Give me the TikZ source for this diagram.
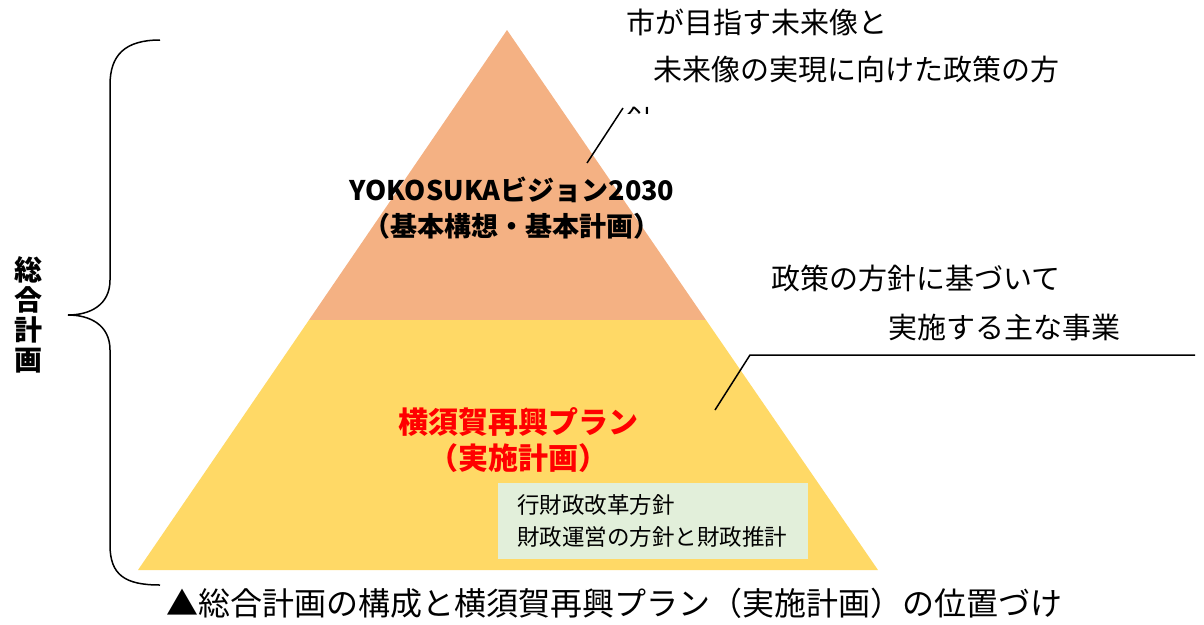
\documentclass[tikz,border=0pt]{standalone}
\usepackage{fontspec}
\setmainfont{Noto Sans CJK JP}
\usetikzlibrary{positioning}
\definecolor{spitze}{HTML}{F4B183}
\definecolor{sockel}{HTML}{FFD966}
\definecolor{kasten}{HTML}{E2EFDA}
\tikzset{
    %Define style for side notes
    notiz/.style={
           font=\fontsize{29}{32}\selectfont,
           inner sep=0pt,
           anchor=west},
    %Define style for the titles inside the pyramid
    titel/.style={
           font=\bfseries\fontsize{28}{36}\selectfont,
           align=center,
           inner sep=0pt},
    % Define leader line style
    strich/.style={
           draw=black,
           line width=1.5pt}
}
\begin{document}
\begin{tikzpicture}[x=1pt, y=-1pt]
\useasboundingbox (0,0) rectangle (1204,624);

%pyramid
\fill[spitze] (507,30) -- (706,320) -- (309,320) -- cycle;
\fill[sockel] (309,320) -- (706,320) -- (878,570) -- (138,570) -- cycle;

%nodes
\node[titel, font=\bfseries\fontsize{27}{36}\selectfont] (vision) at (512,208) {YOKOSUKAビジョン2030\\（基本構想・基本計画）};
\node[titel, text=red, font=\bfseries\fontsize{30}{36}\selectfont] (plan) at (518,440) {横須賀再興プラン\\（実施計画）};
\node[fill=kasten, minimum width=310pt, minimum height=76pt, inner xsep=19pt,
      align=left, text width=272pt, font=\fontsize{22.5}{32}\selectfont] (finanz) at (653,521)
      {行財政改革方針\\財政運営の方針と財政推計};

\node[notiz] (ziel1) at (626,22) {市が目指す未来像と};
\node[notiz] (ziel2) at (653,70) {未来像の実現に向けた政策の方};
\begin{scope}
\clip (600,95) rectangle (700,113);
\node[notiz] (ziel3) at (626,120) {針};
\end{scope}
\node[notiz] (weg1) at (771,278) {政策の方針に基づいて};
\node[notiz] (weg2) at (888,328) {実施する主な事業};

\node[font=\bfseries\fontsize{28}{30}\selectfont, align=center, inner sep=0pt] (gesamt) at (28,315) {総\\合\\計\\画};
\node[font=\fontsize{32}{36}\selectfont, inner sep=0pt, anchor=west] (unten) at (166,603)
      {▲総合計画の構成と横須賀再興プラン（実施計画）の位置づけ};

%leader lines
\coordinate (o1) at (623,108);
\coordinate (o2) at (587,163);
\coordinate (u0) at (1195,355);
\coordinate (u1) at (750,355);
\coordinate (u2) at (715,410);
\draw [strich] (o1) -- (o2);
\draw [strich] (u0) -- (u1) -- (u2);

%brace
\draw [strich]
    (160,40) .. controls (125,40) and (110,55) .. (110,85) -- (110,280)
    .. controls (110,305) and (90,315) .. (68,315)
    .. controls (90,315) and (110,325) .. (110,350) -- (110,545)
    .. controls (110,575) and (125,585) .. (160,585);

\end{tikzpicture}
\end{document}
